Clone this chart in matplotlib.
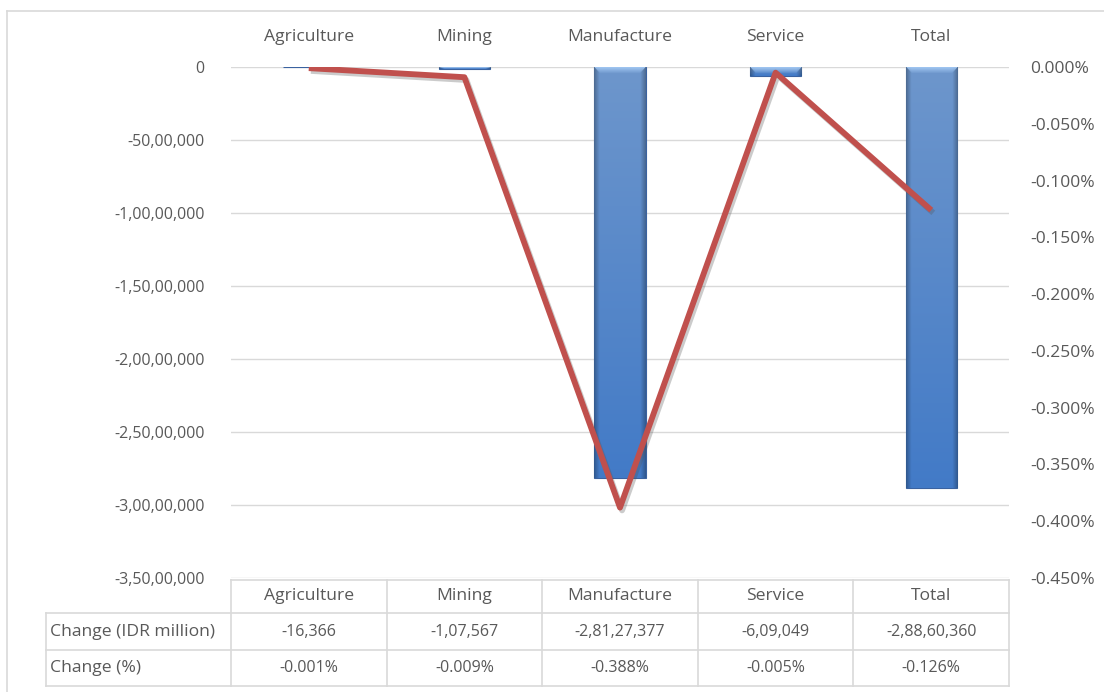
import numpy as np
import matplotlib.pyplot as plt
from matplotlib.lines import Line2D
import matplotlib.patheffects as pe
from matplotlib.ticker import FuncFormatter, MultipleLocator

plt.rcParams['font.family'] = ['Open Sans', 'DejaVu Sans']

sectors = ['Agriculture', 'Mining', 'Manufacture', 'Service', 'Total']
change_idr = [-16366, -107567, -28127377, -609049, -28860360]
change_pct = [-0.001, -0.009, -0.388, -0.005, -0.126]
row_names = ['Change (IDR million)', 'Change (%)']

TXT = '#595959'
GRID = '#D9D9D9'
FS_WORD = 12.6
FS_NUM = 11.5
W, H = 1104, 692


def indian(n):
    # Indian digit grouping: 2,81,27,377
    sign = '-' if n < 0 else ''
    s = str(int(round(abs(n))))
    if len(s) <= 3:
        return sign + s
    head, tail = s[:-3], s[-3:]
    groups = []
    while len(head) > 2:
        groups.insert(0, head[-2:])
        head = head[:-2]
    if head:
        groups.insert(0, head)
    return sign + ','.join(groups) + ',' + tail


def px(x, y):
    return x / W, 1 - y / H


fig = plt.figure(figsize=(W / 100, H / 100), dpi=100)
left, right, top, bottom = 231, 1009, 67, 578
ax = fig.add_axes([left / W, 1 - bottom / H, (right - left) / W, (bottom - top) / H])

x = np.arange(len(sectors))
ax.set_xlim(-0.5, len(sectors) - 0.5)
ax.set_ylim(-3.5e7, 0)
ax.yaxis.set_major_locator(MultipleLocator(5e6))
ax.yaxis.set_major_formatter(FuncFormatter(lambda v, p: indian(v)))
ax.grid(axis='y', color=GRID, lw=1)
ax.set_axisbelow(True)
ax.tick_params(axis='y', length=0, pad=19, labelsize=11.5, labelcolor=TXT)
ax.set_xticks([])
for s in ax.spines.values():
    s.set_visible(False)

# bevelled bars: shaded image clipped to each bar
bw = 0.33
per_px = 3.5e7 / (bottom - top)
u = np.linspace(0, 1, 60)
side = 0.72 + 0.28 * np.clip(np.minimum(u, 1 - u) / 0.1, 0, 1)
top_col = np.array([0.43, 0.59, 0.80])
bot_col = np.array([0.26, 0.48, 0.78])
bevel_col = np.array([0.64, 0.79, 0.96])

bars = ax.bar(x, change_idr, width=bw, color='#4A7DC9', edgecolor='#3A62A0', lw=0.8, zorder=2)
for b, v in zip(bars, change_idr):
    x0 = b.get_x()
    n = max(int(-v / per_px), 2)
    t = np.linspace(0, 1, n)[:, None, None]
    img = (top_col + (bot_col - top_col) * t) * side[None, :, None]
    im = ax.imshow(np.clip(img, 0, 1), extent=[x0, x0 + bw, v, 0], aspect='auto',
                   origin='upper', zorder=2.1, interpolation='bilinear')
    im.set_clip_path(b)
    # light bevel along the top edge
    k = 7
    alpha = np.linspace(0.9, 0.0, k)[:, None] * np.ones((1, 60))
    inset = np.minimum(u, 1 - u)[None, :] * 60 > np.arange(k)[:, None] * 1.2
    rgba = np.zeros((k, 60, 4))
    rgba[..., :3] = bevel_col
    rgba[..., 3] = alpha * inset
    h = max(v, -k * per_px)
    im2 = ax.imshow(rgba, extent=[x0, x0 + bw, h, 0], aspect='auto', origin='upper',
                    zorder=2.2, interpolation='bilinear')
    im2.set_clip_path(b)

# category names above the plot
for i, name in enumerate(sectors):
    ax.text(i, 1 + 30 / (bottom - top), name, transform=ax.get_xaxis_transform(),
            ha='center', va='center', fontsize=FS_WORD, color=TXT)

# percentage change on secondary axis
ax2 = ax.twinx()
ax2.set_ylim(-0.45, 0)
ax2.yaxis.set_major_locator(MultipleLocator(0.05))
ax2.yaxis.set_major_formatter(FuncFormatter(lambda v, p: f'{v:.3f}%'))
ax2.tick_params(axis='y', length=0, pad=15, labelsize=12.5, labelcolor=TXT)
for s in ax2.spines.values():
    s.set_visible(False)
ax2.plot(x, change_pct, color='#C0504D', lw=4.2, solid_capstyle='butt', zorder=3,
         path_effects=[pe.SimpleLineShadow(offset=(1.5, -2), alpha=0.3, shadow_color='#555555'),
                       pe.Normal()])

# data table under the plot
col_w = (right - left) / len(sectors)
edges = [left + col_w * i for i in range(len(sectors) + 1)]
tbl_left = 46
rows_y = [580, 613, 650, 686]


def hline(x0, x1, y):
    fig.add_artist(Line2D([px(x0, y)[0], px(x1, y)[0]], [px(x0, y)[1]] * 2,
                          color=GRID, lw=1.2))


def vline(xx, y0, y1):
    fig.add_artist(Line2D([px(xx, y0)[0]] * 2, [px(xx, y0)[1], px(xx, y1)[1]],
                          color=GRID, lw=1.2))


hline(left, right, rows_y[0])
for yy in rows_y[1:]:
    hline(tbl_left, right, yy)
for xx in edges:
    vline(xx, rows_y[0], rows_y[-1])
vline(tbl_left, rows_y[1], rows_y[-1])

cells = [[indian(v) for v in change_idr], [f'{v:.3f}%' for v in change_pct]]
for i, name in enumerate(sectors):
    cx = (edges[i] + edges[i + 1]) / 2
    fig.text(*px(cx, (rows_y[0] + rows_y[1]) / 2), name, ha='center', va='center',
             fontsize=FS_WORD, color=TXT)
    for r in range(2):
        fig.text(*px(cx, (rows_y[r + 1] + rows_y[r + 2]) / 2), cells[r][i],
                 ha='center', va='center', fontsize=FS_NUM, color=TXT)
for r, label in enumerate(row_names):
    fig.text(*px(tbl_left + 4, (rows_y[r + 1] + rows_y[r + 2]) / 2), label,
             ha='left', va='center', fontsize=FS_WORD, color=TXT)

# chart frame
fig.add_artist(Line2D([7 / W, 7 / W], [0, 1 - 11 / H], color=GRID, lw=1.2))
fig.add_artist(Line2D([7 / W, 1], [1 - 11 / H] * 2, color=GRID, lw=1.2))

fig.savefig('out.png', dpi=100)
